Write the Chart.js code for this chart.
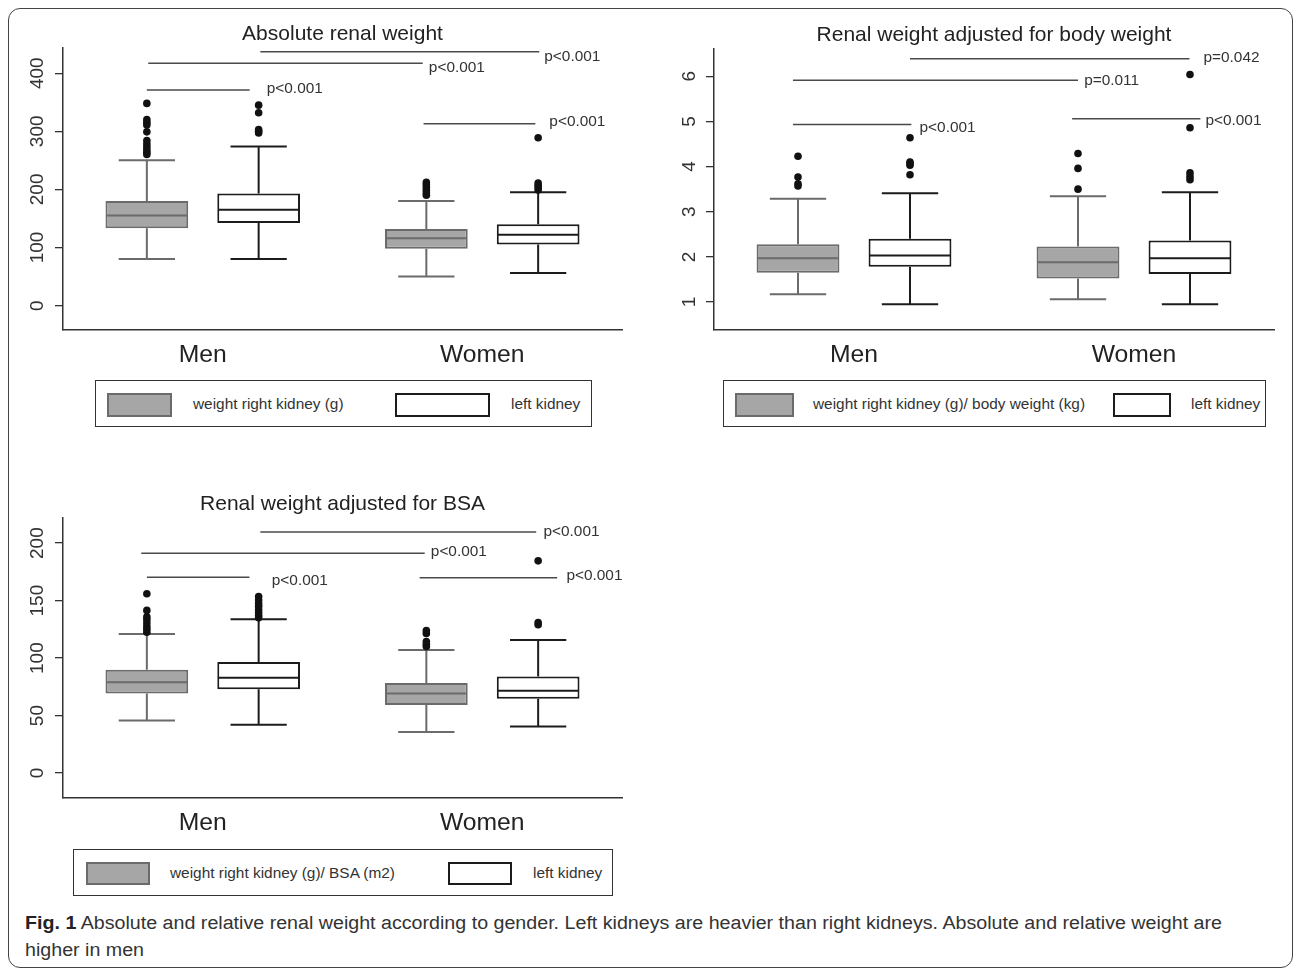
<!DOCTYPE html>
<html>
<head>
<meta charset="utf-8">
<script src="https://cdn.jsdelivr.net/npm/chart.js@4.4.1/dist/chart.umd.min.js"></script>
<style>
  body { margin: 0; background: #fff; width: 1295px; height: 970px; position: relative; overflow: hidden;
         font-family: "Liberation Sans", Arial, sans-serif; color: #222; }
  .frame { position: absolute; left: 8px; top: 8px; width: 1285px; height: 960px; border: 1.5px solid #444;
           border-radius: 12px; box-sizing: border-box; }
  canvas { position: absolute; }
  .legend { position: absolute; border: 1.5px solid #333; box-sizing: border-box; background: #fff; }
  .legend .sw { position: absolute; box-sizing: border-box; border: 2px solid #222; }
  .legend .tx { position: absolute; top: 0; bottom: 0; display: flex; align-items: center; font-size: 15.4px; color: #333; white-space: nowrap; }
  .caption { position: absolute; left: 25px; top: 910px; font-size: 18px; line-height: 27px; color: #333;
             white-space: nowrap; transform-origin: left top; }
  .caption b { color: #222; }
</style>
</head>
<body>
<div class="frame"></div>
<canvas id="absChart" width="620" height="358" style="left:20px;top:12px"></canvas>
<canvas id="bwChart" width="610" height="357" style="left:671px;top:13px"></canvas>
<canvas id="bsaChart" width="620" height="356" style="left:20px;top:482px"></canvas>
<div id="absLegend" class="legend"></div>
<div id="bwLegend" class="legend"></div>
<div id="bsaLegend" class="legend"></div>
<div class="caption" id="caption"><span id="capLine1"><b>Fig. 1</b> Absolute and relative renal weight according to gender. Left kidneys are heavier than right kidneys. Absolute and relative weight are</span><br>higher in men</div>
<script>
const groups = ["Men", "Women"];

// box stats per group: [lower whisker, Q1, median, Q3, upper whisker]
// Absolute renal weight (g)
const absRight = [[80, 133, 155, 180, 250], [50, 98, 116, 132, 180]];
const absLeft = [[80, 142, 165, 193, 274], [56, 105, 122, 140, 195]];
const absRightOut = [[260, 264, 268, 273, 278, 284, 299, 311, 315, 320, 348], [190, 194, 198, 203, 208, 212]];
const absLeftOut = [[297, 300, 303, 332, 345], [199, 203, 207, 211, 289]];
const absTicks = [0, 100, 200, 300, 400];
const absRange = [-42, 443];
const absLabels = ["weight right kidney (g)", "left kidney"];
// from / to in category units, y in axis units, label anchor tx / ty
const absBrackets = [
  { from: 0.206, to: 1.204, y: 437, text: "p<0.001", tx: 1.222, ty: 428 },
  { from: -0.195, to: 0.787, y: 417, text: "p<0.001", tx: 0.809, ty: 410 },
  { from: -0.2, to: 0.168, y: 371, text: "p<0.001", tx: 0.229, ty: 374 },
  { from: 0.79, to: 1.19, y: 313, text: "p<0.001", tx: 1.24, ty: 316 },
];

// Renal weight adjusted for body weight (g/kg)
const bwRight = [[1.17, 1.65, 1.97, 2.28, 3.29], [1.06, 1.52, 1.88, 2.23, 3.34]];
const bwLeft = [[0.95, 1.78, 2.03, 2.40, 3.41], [0.95, 1.62, 1.97, 2.36, 3.43]];
const bwRightOut = [[3.57, 3.62, 3.77, 4.23], [3.50, 3.96, 4.29]];
const bwLeftOut = [[3.82, 4.03, 4.07, 4.10, 4.64], [3.71, 3.78, 3.86, 4.86, 6.04]];
const bwTicks = [1, 2, 3, 4, 5, 6];
const bwRange = [0.38, 6.6];
const bwLabels = ["weight right kidney (g)/ body weight (kg)", "left kidney"];
const bwBrackets = [
  { from: 0.2, to: 1.198, y: 6.39, text: "p=0.042", tx: 1.248, ty: 6.40 },
  { from: -0.218, to: 0.8, y: 5.91, text: "p=0.011", tx: 0.822, ty: 5.91 },
  { from: -0.218, to: 0.205, y: 4.93, text: "p<0.001", tx: 0.234, ty: 4.85 },
  { from: 0.779, to: 1.237, y: 5.06, text: "p<0.001", tx: 1.255, ty: 5.01 },
];

// Renal weight adjusted for BSA (g/m2)
const bsaRight = [[45.8, 69.3, 79.1, 89.9, 120.9], [35.7, 59.1, 69.3, 78.3, 107]];
const bsaLeft = [[42, 73, 82.9, 96.5, 133.9], [40.6, 64.6, 71.6, 84, 115.7]];
const bsaRightOut = [[122.5, 125, 127.5, 130.5, 133.5, 136, 141.5, 156], [110, 112, 114.5, 121.5, 124]];
const bsaLeftOut = [[135, 137, 139.5, 142, 145, 147.5, 150.5, 153.5], [129, 131, 184.6]];
const bsaTicks = [0, 50, 100, 150, 200];
const bsaRange = [-21.7, 221.7];
const bsaLabels = ["weight right kidney (g)/ BSA (m2)", "left kidney"];
const bsaBrackets = [
  { from: 0.206, to: 1.193, y: 209.6, text: "p<0.001", tx: 1.219, ty: 209.8 },
  { from: -0.22, to: 0.794, y: 191.3, text: "p<0.001", tx: 0.816, ty: 192.4 },
  { from: -0.2, to: 0.167, y: 170.4, text: "p<0.001", tx: 0.247, ty: 167.5 },
  { from: 0.776, to: 1.268, y: 169.9, text: "p<0.001", tx: 1.301, ty: 171.6 },
];

const FONT = '"Liberation Sans", Arial, sans-serif';
const GRAY_FILL = "#a6a6a6";
const GRAY_LINE = "#6b6b6b";
const BLACK_LINE = "#1c1c1c";

Chart.defaults.font.family = FONT;
Chart.defaults.color = "#222";

// draws median, whiskers, caps and outliers on top of the floating bars
const boxPlugin = {
  id: "boxWhiskers",
  afterDatasetsDraw(chart) {
    const ctx = chart.ctx;
    const y = chart.scales.y;
    chart.data.datasets.forEach((ds, i) => {
      chart.getDatasetMeta(i).data.forEach((bar, j) => {
        const s = ds.stats[j];
        const half = bar.width / 2;
        const cap = bar.width * 0.34;
        const py = (v) => y.getPixelForValue(v);
        ctx.save();
        ctx.strokeStyle = ds.borderColor;
        ctx.lineWidth = 2;
        ctx.beginPath();
        ctx.moveTo(bar.x - half + 1, py(s[2]));
        ctx.lineTo(bar.x + half - 1, py(s[2]));
        ctx.moveTo(bar.x, py(s[3]));
        ctx.lineTo(bar.x, py(s[4]));
        ctx.moveTo(bar.x - cap, py(s[4]));
        ctx.lineTo(bar.x + cap, py(s[4]));
        ctx.moveTo(bar.x, py(s[1]));
        ctx.lineTo(bar.x, py(s[0]));
        ctx.moveTo(bar.x - cap, py(s[0]));
        ctx.lineTo(bar.x + cap, py(s[0]));
        ctx.stroke();
        ctx.fillStyle = "#111";
        ds.outliers[j].forEach((v) => {
          ctx.beginPath();
          ctx.arc(bar.x, py(v), 3.8, 0, Math.PI * 2);
          ctx.fill();
        });
        ctx.restore();
      });
    });
  },
};

// significance lines with p-values
const bracketPlugin = {
  id: "brackets",
  afterDraw(chart, args, opts) {
    const { ctx, scales: { x, y } } = chart;
    ctx.save();
    ctx.strokeStyle = "#4a4a4a";
    ctx.lineWidth = 1.5;
    ctx.fillStyle = "#333";
    ctx.font = "15.4px " + FONT;
    ctx.textBaseline = "middle";
    (opts.items || []).forEach((b) => {
      const py = y.getPixelForValue(b.y);
      ctx.beginPath();
      ctx.moveTo(x.getPixelForValue(b.from), py);
      ctx.lineTo(x.getPixelForValue(b.to), py);
      ctx.stroke();
      ctx.fillText(b.text, x.getPixelForValue(b.tx), y.getPixelForValue(b.ty));
    });
    ctx.restore();
  },
};

function makeChart(id, title, right, left, rightOut, leftOut, ticks, range, brackets, labels, padRight, tickPad) {
  const floating = (stats) => stats.map((s) => [s[1], s[3]]);
  return new Chart(document.getElementById(id), {
    type: "bar",
    data: {
      labels: groups,
      datasets: [
        {
          label: labels[0],
          data: floating(right),
          stats: right,
          outliers: rightOut,
          backgroundColor: GRAY_FILL,
          borderColor: GRAY_LINE,
          borderWidth: 2,
          borderSkipped: false,
          categoryPercentage: 0.8,
          barPercentage: 0.74,
        },
        {
          label: labels[1],
          data: floating(left),
          stats: left,
          outliers: leftOut,
          backgroundColor: "#ffffff",
          borderColor: BLACK_LINE,
          borderWidth: 2,
          borderSkipped: false,
          categoryPercentage: 0.8,
          barPercentage: 0.74,
        },
      ],
    },
    options: {
      responsive: false,
      animation: false,
      devicePixelRatio: 1,
      layout: { padding: { left: 0, right: padRight, top: 0, bottom: 0 } },
      plugins: {
        legend: { display: false },
        tooltip: { enabled: false },
        title: {
          display: true,
          text: title,
          fullSize: false,
          color: "#222",
          font: { size: 21, weight: "normal" },
          padding: { top: 10, bottom: 1 },
        },
        brackets: { items: brackets },
      },
      scales: {
        x: {
          grid: { display: false, drawTicks: false },
          border: { display: true, color: "#333", width: 1.5 },
          ticks: { padding: 10, color: "#222", font: { size: 24.7 } },
          afterFit: (s) => { s.height = 40; },
        },
        y: {
          min: range[0],
          max: range[1],
          afterBuildTicks: (s) => { s.ticks = ticks.map((v) => ({ value: v })); },
          afterFit: (s) => { s.width = 43; },
          grid: { drawOnChartArea: false, drawTicks: true, tickLength: 8, color: "#333", lineWidth: 1.3 },
          border: { display: true, color: "#333", width: 1.5 },
          ticks: { minRotation: 90, maxRotation: 90, crossAlign: "center", padding: tickPad, color: "#333", font: { size: 19 } },
        },
      },
    },
    plugins: [boxPlugin, bracketPlugin],
  });
}

function makeLegend(id, chart, box, swatches, textLeft) {
  const el = document.getElementById(id);
  el.style.left = box[0] + "px";
  el.style.top = box[1] + "px";
  el.style.width = box[2] + "px";
  el.style.height = box[3] + "px";
  chart.data.datasets.forEach((ds, i) => {
    const sw = document.createElement("div");
    sw.className = "sw";
    const r = swatches[i];
    sw.style.left = r[0] + "px";
    sw.style.top = r[1] + "px";
    sw.style.width = r[2] + "px";
    sw.style.height = r[3] + "px";
    sw.style.background = ds.backgroundColor;
    sw.style.borderColor = ds.borderColor;
    el.appendChild(sw);
    const tx = document.createElement("div");
    tx.className = "tx";
    tx.style.left = textLeft[i] + "px";
    tx.textContent = ds.label;
    el.appendChild(tx);
  });
}

const absChart = makeChart("absChart", "Absolute renal weight", absRight, absLeft, absRightOut, absLeftOut,
  absTicks, absRange, absBrackets, absLabels, 18, 1);
const bwChart = makeChart("bwChart", "Renal weight adjusted for body weight", bwRight, bwLeft, bwRightOut, bwLeftOut,
  bwTicks, bwRange, bwBrackets, bwLabels, 7, 11);
const bsaChart = makeChart("bsaChart", "Renal weight adjusted for BSA", bsaRight, bsaLeft, bsaRightOut, bsaLeftOut,
  bsaTicks, bsaRange, bsaBrackets, bsaLabels, 18, 1);

makeLegend("absLegend", absChart, [95, 380, 497, 47], [[11, 12, 65, 24], [299, 12, 95, 24]], [97, 415]);
makeLegend("bwLegend", bwChart, [723, 380, 543, 47], [[11, 12, 59, 24], [389, 12, 58, 24]], [89, 467]);
makeLegend("bsaLegend", bsaChart, [73, 849, 540, 47], [[12, 12, 64, 23], [374, 12, 64, 23]], [96, 459]);

// squeeze the caption to the width of the original narrow typeface
const cap = document.getElementById("caption");
const w = document.getElementById("capLine1").getBoundingClientRect().width;
cap.style.transform = "scaleX(" + (1197 / w) + ")";
</script>
</body>
</html>
